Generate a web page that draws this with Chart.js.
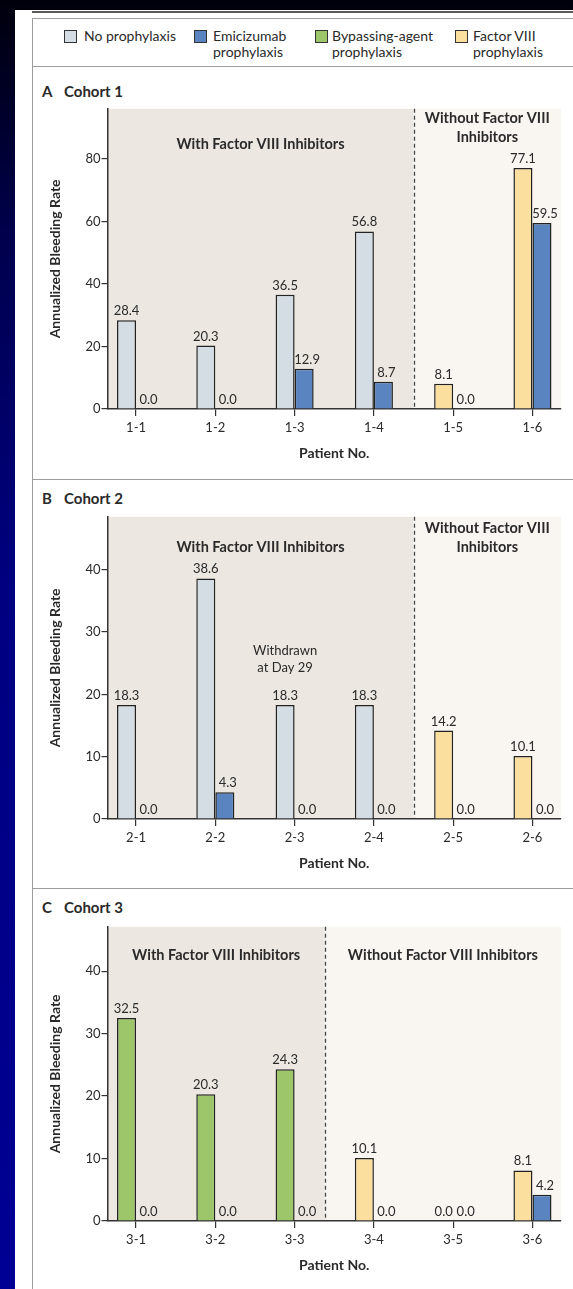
<!DOCTYPE html>
<html>
<head>
<meta charset="utf-8">
<script src="https://cdn.jsdelivr.net/npm/chart.js@4.4.1/dist/chart.umd.min.js"></script>
<style>
  html, body { margin: 0; padding: 0; }
  body {
    width: 573px; height: 1289px; overflow: hidden; position: relative;
    background: linear-gradient(to bottom, #00000c 0%, #00004c 18%, #000080 45%, #000094 100%);
    font-family: Lato, "Liberation Sans", sans-serif; color: #2a2a2a;
  }
  .sheet { position: absolute; left: 15px; top: 10px; right: 0; bottom: 0; background: #fff; }
  .rule { position: absolute; left: 32px; top: 11px; right: 0; height: 2px; background: #5c5c5c; }
  .box { position: absolute; left: 32px; right: -4px; border: 1px solid #9c9c9c; }
  .key { position: absolute; font-size: 14px; line-height: 16px; top: 28px; }
  .sw { position: absolute; width: 11px; height: 11px; border: 1px solid #333; top: 30px; }
  .ptitle { position: absolute; font-weight: bold; font-size: 15px; line-height: 18px; }
  .ptitle span { position: absolute; left: 22px; white-space: nowrap; }
  .wrap { position: absolute; left: 33px; width: 540px; }
  canvas { display: block; }
</style>
</head>
<body>
<div class="sheet"></div>
<div class="rule"></div>
<div class="box" style="top:18px;height:47px"></div>
<div class="box" style="top:66px;height:412px"></div>
<div class="box" style="top:479px;height:408px"></div>
<div class="box" style="top:888px;height:420px"></div>

<div class="sw" style="left:64px;background:#d5dde4"></div>
<div class="key" style="left:84px">No prophylaxis</div>
<div class="sw" style="left:194px;background:#5a84bf"></div>
<div class="key" style="left:213px">Emicizumab<br>prophylaxis</div>
<div class="sw" style="left:315px;background:#9dc56a"></div>
<div class="key" style="left:332px">Bypassing-agent<br>prophylaxis</div>
<div class="sw" style="left:455px;background:#fbdf9f"></div>
<div class="key" style="left:473px">Factor VIII<br>prophylaxis</div>

<div class="ptitle" style="left:42px;top:82px">A<span>Cohort 1</span></div>
<div class="ptitle" style="left:42px;top:489px">B<span>Cohort 2</span></div>
<div class="ptitle" style="left:42px;top:898px">C<span>Cohort 3</span></div>

<div class="wrap" style="top:100px"><canvas id="c1" width="540" height="371"></canvas></div>
<div class="wrap" style="top:508px"><canvas id="c2" width="540" height="373"></canvas></div>
<div class="wrap" style="top:918px"><canvas id="c3" width="540" height="365"></canvas></div>

<script>
// patients per cohort
const patients1 = ['1-1', '1-2', '1-3', '1-4', '1-5', '1-6'];
const patients2 = ['2-1', '2-2', '2-3', '2-4', '2-5', '2-6'];
const patients3 = ['3-1', '3-2', '3-3', '3-4', '3-5', '3-6'];

// annualized bleeding rate before emicizumab (regimen per patient) and with emicizumab
const regimen1 = ['none', 'none', 'none', 'none', 'fviii', 'fviii'];
const before1 = [28.4, 20.3, 36.5, 56.8, 8.1, 77.1];
const emi1 = [0.0, 0.0, 12.9, 8.7, 0.0, 59.5];

const regimen2 = ['none', 'none', 'none', 'none', 'fviii', 'fviii'];
const before2 = [18.3, 38.6, 18.3, 18.3, 14.2, 10.1];
const emi2 = [0.0, 4.3, 0.0, 0.0, 0.0, 0.0];

const regimen3 = ['bypass', 'bypass', 'bypass', 'fviii', 'fviii', 'fviii'];
const before3 = [32.5, 20.3, 24.3, 10.1, 0.0, 8.1];
const emi3 = [0.0, 0.0, 0.0, 0.0, 0.0, 4.2];

const yTicks1 = [0, 20, 40, 60, 80];
const yTicks2 = [0, 10, 20, 30, 40];
const yTicks3 = [0, 10, 20, 30, 40];

const regimenColors = { none: '#d5dde4', emi: '#5a84bf', bypass: '#9dc56a', fviii: '#fbdf9f' };
const FONT = 'Lato, "Liberation Sans", sans-serif';
const INK = '#2a2a2a';

// shaded "with inhibitors" / "without inhibitors" areas and their captions
const regionPlugin = {
  id: 'regions',
  beforeDraw(chart, args, opts) {
    const { ctx, chartArea: a, scales: { x, y } } = chart;
    const split = x.getPixelForValue(opts.split);
    ctx.save();
    ctx.fillStyle = '#ece8e1';
    ctx.fillRect(a.left, a.top, split - a.left, a.bottom - a.top);
    ctx.fillStyle = '#f9f6f2';
    ctx.fillRect(split, a.top, a.right - split, a.bottom - a.top);

    ctx.strokeStyle = '#444';
    ctx.lineWidth = 1.3;
    ctx.setLineDash([4, 3]);
    ctx.beginPath();
    ctx.moveTo(Math.round(split) + 0.5, a.top);
    ctx.lineTo(Math.round(split) + 0.5, a.bottom);
    ctx.stroke();
    ctx.setLineDash([]);

    ctx.fillStyle = INK;
    ctx.textAlign = 'center';
    ctx.textBaseline = 'middle';
    ctx.font = 'bold 14.5px ' + FONT;
    opts.withText.forEach((t, i) => ctx.fillText(t, (a.left + split) / 2, a.top + opts.withY[i]));
    opts.withoutText.forEach((t, i) => ctx.fillText(t, (split + a.right) / 2, a.top + opts.withoutY[i]));

    if (opts.note) {
      ctx.font = '13px ' + FONT;
      opts.note.text.forEach((t, i) => ctx.fillText(t, x.getPixelForValue(opts.note.x), y.getPixelForValue(opts.note.y[i])));
    }
    ctx.restore();
  }
};

// value printed over every bar
const valuePlugin = {
  id: 'values',
  afterDatasetsDraw(chart) {
    const ctx = chart.ctx;
    ctx.save();
    ctx.font = '13px ' + FONT;
    ctx.fillStyle = INK;
    ctx.textAlign = 'center';
    ctx.textBaseline = 'alphabetic';
    chart.data.datasets.forEach((ds, di) => {
      chart.getDatasetMeta(di).data.forEach((bar, i) => {
        ctx.fillText(ds.data[i].y.toFixed(1), bar.x + (di === 1 ? 3 : 0), bar.y - 5);
      });
    });
    ctx.restore();
  }
};

function makeChart(id, patients, regimen, before, emi, yMax, yTicks, regions) {
  return new Chart(document.getElementById(id), {
    type: 'bar',
    data: {
      datasets: [
        {
          label: 'Before',
          data: before.map((v, i) => ({ x: i, y: v })),
          backgroundColor: regimen.map(r => regimenColors[r]),
          borderColor: '#222', borderWidth: 1.5
        },
        {
          label: 'Emicizumab prophylaxis',
          data: emi.map((v, i) => ({ x: i, y: v })),
          backgroundColor: regimenColors.emi,
          borderColor: '#222', borderWidth: 1.5
        }
      ]
    },
    options: {
      responsive: false,
      animation: false,
      events: [],
      categoryPercentage: 0.48,
      barPercentage: 1.0,
      layout: { padding: { left: 0, top: 8, right: 12, bottom: 0 } },
      plugins: { legend: { display: false }, tooltip: { enabled: false }, regions: regions },
      scales: {
        x: {
          type: 'linear', min: -0.36, max: 5.36, offset: false,
          afterBuildTicks: s => { s.ticks = patients.map((p, i) => ({ value: i })); },
          afterFit: s => { s.height = 62; },
          ticks: { callback: v => patients[v], color: INK, font: { family: FONT, size: 13 }, padding: 4, maxRotation: 0, autoSkip: false },
          grid: { offset: false, drawOnChartArea: false, tickLength: 7, color: '#333', lineWidth: 1.2 },
          border: { color: '#333', width: 1.5 },
          title: { display: true, text: 'Patient No.', color: INK, font: { family: FONT, size: 14, weight: 'bold' }, padding: { top: 0, bottom: 9 } }
        },
        y: {
          min: 0, max: yMax,
          afterBuildTicks: s => { s.ticks = yTicks.map(v => ({ value: v })); },
          afterFit: s => { s.width = 74.5; },
          ticks: { color: INK, font: { family: FONT, size: 13 }, padding: 1 },
          grid: { drawOnChartArea: false, tickLength: 6, color: '#333', lineWidth: 1.2 },
          border: { color: '#333', width: 1.5 },
          title: { display: true, text: 'Annualized Bleeding Rate', color: INK, font: { family: FONT, size: 14, weight: 'bold' }, padding: { top: 13.6, bottom: 0 } }
        }
      }
    },
    plugins: [regionPlugin, valuePlugin]
  });
}

makeChart('c1', patients1, regimen1, before1, emi1, 96, yTicks1, {
  split: 3.5,
  withText: ['With Factor VIII Inhibitors'], withY: [36],
  withoutText: ['Without Factor VIII', 'Inhibitors'], withoutY: [10, 29]
});
makeChart('c2', patients2, regimen2, before2, emi2, 48.5, yTicks2, {
  split: 3.5,
  withText: ['With Factor VIII Inhibitors'], withY: [31],
  withoutText: ['Without Factor VIII', 'Inhibitors'], withoutY: [12, 31],
  note: { text: ['Withdrawn', 'at Day 29'], x: 1.88, y: [27.0, 24.3] }
});
makeChart('c3', patients3, regimen3, before3, emi3, 47.1, yTicks3, {
  split: 2.38,
  withText: ['With Factor VIII Inhibitors'], withY: [29],
  withoutText: ['Without Factor VIII Inhibitors'], withoutY: [29]
});
</script>
</body>
</html>
